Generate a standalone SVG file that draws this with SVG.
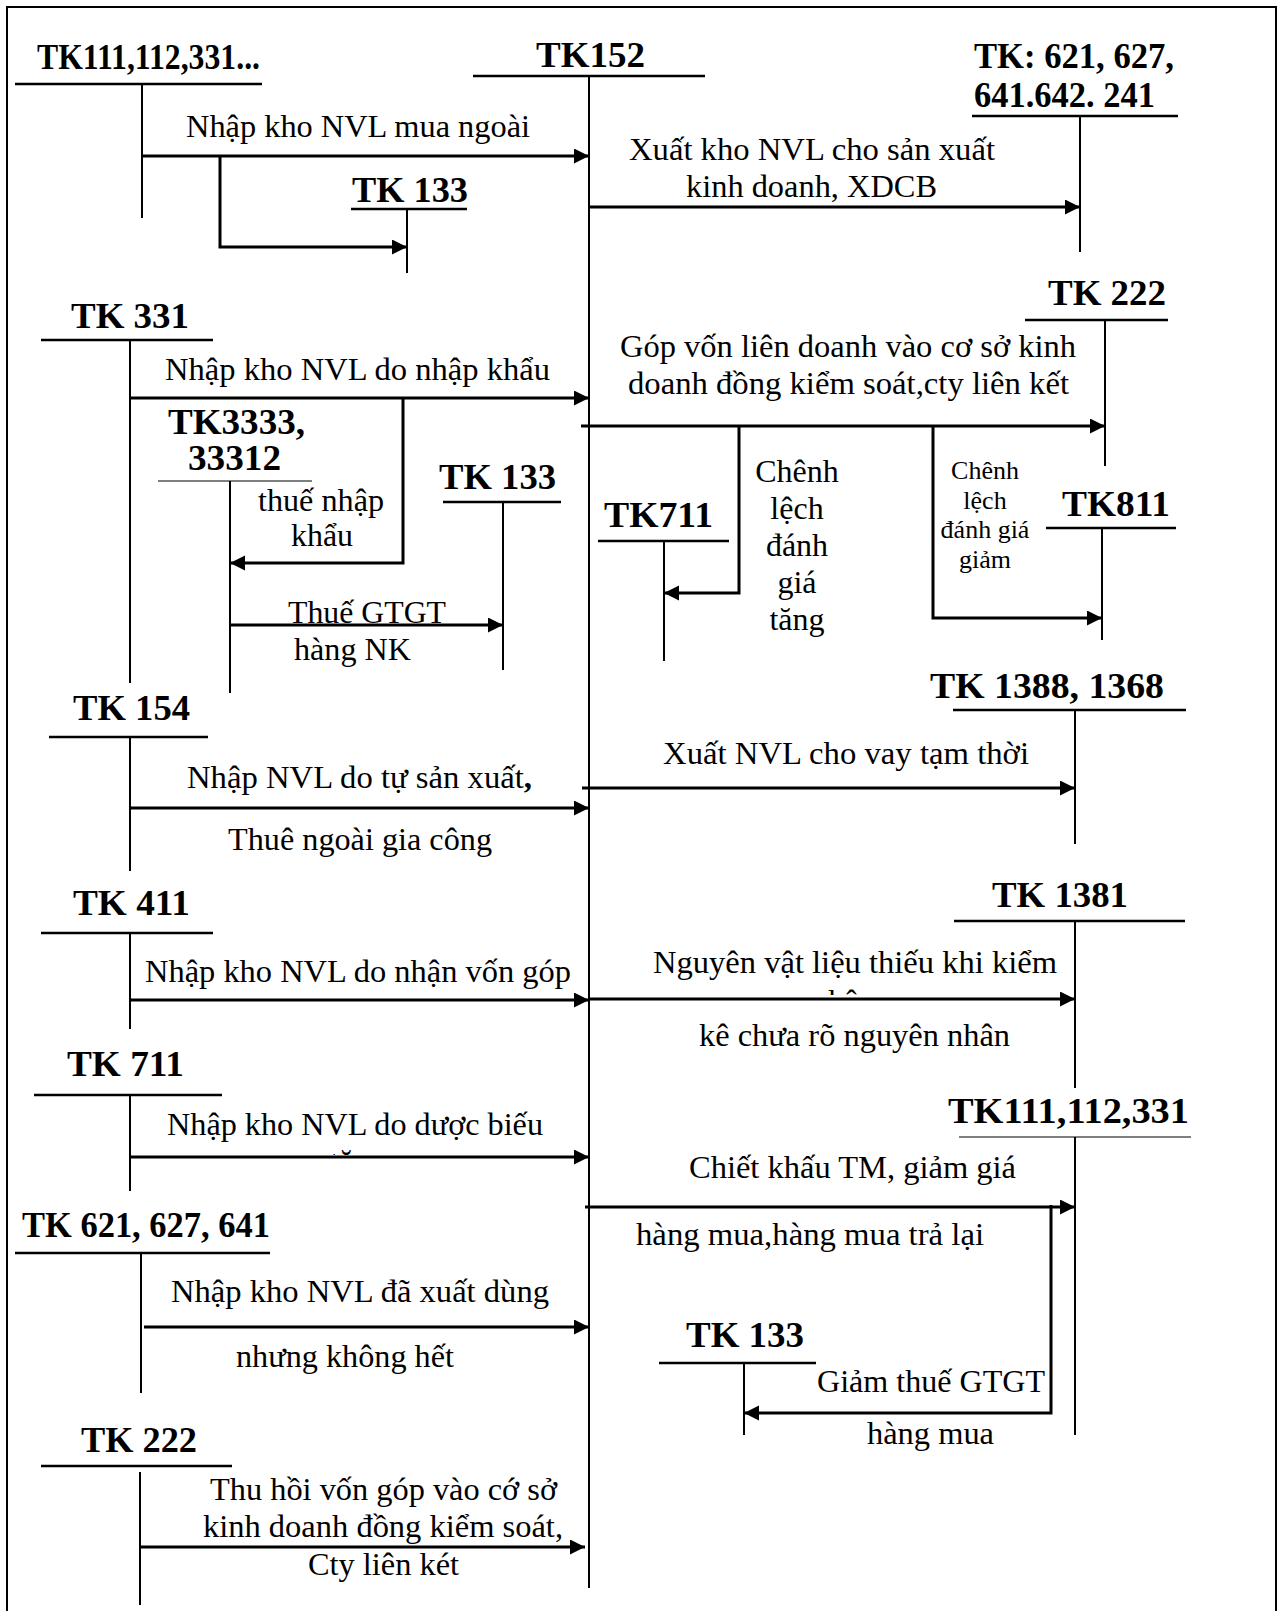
<svg xmlns="http://www.w3.org/2000/svg" width="1283" height="1611" viewBox="0 0 1283 1611">
<style>
.hd{font-family:"Liberation Serif","Times New Roman",serif;font-weight:bold;font-size:36px;fill:#000}
.lb{font-family:"Liberation Serif","Times New Roman",serif;font-size:32px;fill:#000}
.sm{font-family:"Liberation Serif","Times New Roman",serif;font-size:26px;fill:#000}
.v{stroke:#000;stroke-width:2;fill:none}
.u{stroke:#000;stroke-width:2.5;fill:none}
.ut{stroke:#000;stroke-width:1.2;fill:none}
.a{stroke:#000;stroke-width:3;fill:none;marker-end:url(#ah)}
.c{text-anchor:middle}
</style>
<defs>
<marker id="ah" markerUnits="userSpaceOnUse" markerWidth="16" markerHeight="16" refX="15" refY="7.5" orient="auto">
<path d="M0,0 L15,7.5 L0,15 Z" fill="#000"/>
</marker>
<clipPath id="clipKe"><rect x="800" y="960" width="100" height="35"/></clipPath>
<clipPath id="clipTang"><rect x="300" y="1120" width="100" height="35"/></clipPath>
</defs>
<rect width="1283" height="1611" fill="#fff"/>
<path d="M7,1611 V7 H1276 V1611" stroke="#000" stroke-width="2" fill="none"/>

<g id="tk111-top">
<text class="hd" x="37" y="69" textLength="223" lengthAdjust="spacingAndGlyphs">TK111,112,331...</text>
<line class="u" x1="15" y1="84" x2="262" y2="84"/>
<line class="v" x1="142" y1="84" x2="142" y2="218"/>
</g>
<g id="tk152">
<text class="hd" x="536" y="67" textLength="109" lengthAdjust="spacingAndGlyphs">TK152</text>
<line class="u" x1="473" y1="76" x2="705" y2="76"/>
<line class="v" x1="589" y1="76" x2="589" y2="1588"/>
</g>
<g id="tk621-top">
<text class="hd" x="974" y="68" textLength="200" lengthAdjust="spacingAndGlyphs">TK: 621, 627,</text>
<text class="hd" x="974" y="107" textLength="181" lengthAdjust="spacingAndGlyphs">641.642. 241</text>
<line class="u" x1="972" y1="116" x2="1178" y2="116"/>
<line class="v" x1="1080" y1="116" x2="1080" y2="252"/>
</g>
<g id="tk133-top">
<text class="hd" x="352" y="202" textLength="116" lengthAdjust="spacingAndGlyphs">TK 133</text>
<line class="u" x1="351" y1="209" x2="467" y2="209"/>
<line class="v" x1="407" y1="209" x2="407" y2="273"/>
</g>
<g id="tk331">
<text class="hd" x="71" y="328" textLength="118" lengthAdjust="spacingAndGlyphs">TK 331</text>
<line class="u" x1="41" y1="340" x2="213" y2="340"/>
<line class="v" x1="130" y1="340" x2="130" y2="683"/>
</g>
<g id="tk3333">
<text class="hd" x="168" y="434" textLength="137" lengthAdjust="spacingAndGlyphs">TK3333,</text>
<text class="hd" x="188" y="470" textLength="93" lengthAdjust="spacingAndGlyphs">33312</text>
<line class="ut" x1="158" y1="481" x2="312" y2="481"/>
<line class="v" x1="230" y1="481" x2="230" y2="693"/>
</g>
<g id="tk133-mid">
<text class="hd" x="439" y="489" textLength="117" lengthAdjust="spacingAndGlyphs">TK 133</text>
<line class="u" x1="443" y1="502" x2="561" y2="502"/>
<line class="v" x1="503" y1="502" x2="503" y2="670"/>
</g>
<g id="tk222-right">
<text class="hd" x="1048" y="305" textLength="118" lengthAdjust="spacingAndGlyphs">TK 222</text>
<line class="u" x1="1025" y1="320" x2="1168" y2="320"/>
<line class="v" x1="1105" y1="320" x2="1105" y2="466"/>
</g>
<g id="tk711-mid">
<text class="hd" x="604" y="527" textLength="109" lengthAdjust="spacingAndGlyphs">TK711</text>
<line class="u" x1="598" y1="541" x2="729" y2="541"/>
<line class="v" x1="664" y1="541" x2="664" y2="661"/>
</g>
<g id="tk811">
<text class="hd" x="1062" y="516" textLength="108" lengthAdjust="spacingAndGlyphs">TK811</text>
<line class="u" x1="1046" y1="528" x2="1176" y2="528"/>
<line class="v" x1="1102" y1="528" x2="1102" y2="640"/>
</g>
<g id="tk154">
<text class="hd" x="73" y="720" textLength="117" lengthAdjust="spacingAndGlyphs">TK 154</text>
<line class="u" x1="49" y1="737" x2="208" y2="737"/>
<line class="v" x1="130" y1="737" x2="130" y2="871"/>
</g>
<g id="tk1388">
<text class="hd" x="930" y="698" textLength="234" lengthAdjust="spacingAndGlyphs">TK 1388, 1368</text>
<line class="u" x1="953" y1="710" x2="1186" y2="710"/>
<line class="v" x1="1075" y1="710" x2="1075" y2="844"/>
</g>
<g id="tk411">
<text class="hd" x="73" y="915" textLength="117" lengthAdjust="spacingAndGlyphs">TK 411</text>
<line class="u" x1="41" y1="933" x2="213" y2="933"/>
<line class="v" x1="130" y1="933" x2="130" y2="1029"/>
</g>
<g id="tk1381">
<text class="hd" x="992" y="907" textLength="136" lengthAdjust="spacingAndGlyphs">TK 1381</text>
<line class="u" x1="954" y1="921" x2="1185" y2="921"/>
<line class="v" x1="1075" y1="921" x2="1075" y2="1088"/>
</g>
<g id="tk711-left">
<text class="hd" x="67" y="1076" textLength="117" lengthAdjust="spacingAndGlyphs">TK 711</text>
<line class="u" x1="34" y1="1095" x2="222" y2="1095"/>
<line class="v" x1="130" y1="1095" x2="130" y2="1191"/>
</g>
<g id="tk111-right">
<text class="hd" x="948" y="1123" textLength="241" lengthAdjust="spacingAndGlyphs">TK111,112,331</text>
<line class="ut" x1="959" y1="1137" x2="1191" y2="1137"/>
<line class="v" x1="1075" y1="1137" x2="1075" y2="1435"/>
</g>
<g id="tk621-left">
<text class="hd" x="22" y="1237" textLength="248" lengthAdjust="spacingAndGlyphs">TK 621, 627, 641</text>
<line class="u" x1="15" y1="1253" x2="270" y2="1253"/>
<line class="v" x1="141" y1="1253" x2="141" y2="1393"/>
</g>
<g id="tk133-bottom">
<text class="hd" x="686" y="1347" textLength="118" lengthAdjust="spacingAndGlyphs">TK 133</text>
<line class="u" x1="659" y1="1363" x2="816" y2="1363"/>
<line class="v" x1="744" y1="1363" x2="744" y2="1435"/>
</g>
<g id="tk222-left">
<text class="hd" x="81" y="1452" textLength="116" lengthAdjust="spacingAndGlyphs">TK 222</text>
<line class="u" x1="41" y1="1466" x2="232" y2="1466"/>
<line class="v" x1="140" y1="1472" x2="140" y2="1605"/>
</g>

<g id="connectors">
<line class="a" x1="142" y1="156" x2="589" y2="156"/>
<path class="a" d="M220,156 V247 H407"/>
<line class="a" x1="589" y1="207" x2="1080" y2="207"/>
<line class="a" x1="130" y1="398" x2="589" y2="398"/>
<path class="a" d="M403,398 V563 H230"/>
<line class="a" x1="230" y1="625" x2="503" y2="625"/>
<line class="a" x1="581" y1="426" x2="1105" y2="426"/>
<path class="a" d="M739,426 V593 H664"/>
<path class="a" d="M933,426 V618 H1102"/>
<line class="a" x1="582" y1="788" x2="1075" y2="788"/>
<line class="a" x1="130" y1="808" x2="589" y2="808"/>
<line class="a" x1="130" y1="1000" x2="589" y2="1000"/>
<line class="a" x1="589" y1="999" x2="1075" y2="999"/>
<line class="a" x1="130" y1="1157" x2="589" y2="1157"/>
<line class="a" x1="585" y1="1207" x2="1075" y2="1207"/>
<path class="a" d="M1051,1205 V1413 H744"/>
<line class="a" x1="144" y1="1327" x2="589" y2="1327"/>
<line class="a" x1="140" y1="1547" x2="585" y2="1547"/>
</g>

<g id="labels">
<text class="lb" x="186" y="137" textLength="344" lengthAdjust="spacingAndGlyphs">Nhập kho NVL mua ngoài</text>
<text class="lb" x="629" y="160" textLength="366" lengthAdjust="spacingAndGlyphs">Xuất kho NVL cho sản xuất</text>
<text class="lb" x="686" y="197" textLength="251" lengthAdjust="spacingAndGlyphs">kinh doanh, XDCB</text>
<text class="lb" x="165" y="380" textLength="385" lengthAdjust="spacingAndGlyphs">Nhập kho NVL do nhập khẩu</text>
<text class="lb" x="258" y="511" textLength="126" lengthAdjust="spacingAndGlyphs">thuế nhập</text>
<text class="lb" x="291" y="546" textLength="62" lengthAdjust="spacingAndGlyphs">khẩu</text>
<text class="lb" x="288" y="623" textLength="158" lengthAdjust="spacingAndGlyphs">Thuế GTGT</text>
<text class="lb" x="294" y="660" textLength="117" lengthAdjust="spacingAndGlyphs">hàng NK</text>
<text class="lb" x="620" y="357" textLength="456" lengthAdjust="spacingAndGlyphs">Góp vốn liên doanh vào cơ sở kinh</text>
<text class="lb" x="628" y="394" textLength="441" lengthAdjust="spacingAndGlyphs">doanh đồng kiểm soát,cty liên kết</text>
<text class="lb c" x="797" y="482">Chênh</text>
<text class="lb c" x="797" y="519">lệch</text>
<text class="lb c" x="797" y="556">đánh</text>
<text class="lb c" x="797" y="593">giá</text>
<text class="lb c" x="797" y="630">tăng</text>
<text class="sm c" x="985" y="479">Chênh</text>
<text class="sm c" x="985" y="509">lệch</text>
<text class="sm c" x="985" y="538">đánh giá</text>
<text class="sm c" x="985" y="568">giảm</text>
<text class="lb" x="663" y="764" textLength="366" lengthAdjust="spacingAndGlyphs">Xuất NVL cho vay tạm thời</text>
<text class="lb" x="187" y="788" textLength="345" lengthAdjust="spacingAndGlyphs">Nhập NVL do tự sản xuất<tspan font-weight="bold">,</tspan></text>
<text class="lb" x="228" y="850" textLength="264" lengthAdjust="spacingAndGlyphs">Thuê ngoài gia công</text>
<text class="lb" x="145" y="982" textLength="426" lengthAdjust="spacingAndGlyphs">Nhập kho NVL do nhận vốn góp</text>
<text class="lb" x="653" y="973" textLength="404" lengthAdjust="spacingAndGlyphs">Nguyên vật liệu thiếu khi kiểm</text>
<text class="lb" x="828" y="1012" clip-path="url(#clipKe)">kê</text>
<text class="lb" x="699" y="1046" textLength="311" lengthAdjust="spacingAndGlyphs">kê chưa rõ nguyên nhân</text>
<text class="lb" x="167" y="1135" textLength="376" lengthAdjust="spacingAndGlyphs">Nhập kho NVL do dược biếu</text>
<text class="lb" x="330" y="1172" clip-path="url(#clipTang)">tặng</text>
<text class="lb" x="689" y="1178" textLength="327" lengthAdjust="spacingAndGlyphs">Chiết khấu TM, giảm giá</text>
<text class="lb" x="636" y="1245" textLength="348" lengthAdjust="spacingAndGlyphs">hàng mua,hàng mua trả lại</text>
<text class="lb" x="817" y="1392" textLength="228" lengthAdjust="spacingAndGlyphs">Giảm thuế GTGT</text>
<text class="lb" x="867" y="1444" textLength="127" lengthAdjust="spacingAndGlyphs">hàng mua</text>
<text class="lb" x="171" y="1302" textLength="378" lengthAdjust="spacingAndGlyphs">Nhập kho NVL đã xuất dùng</text>
<text class="lb" x="236" y="1367" textLength="218" lengthAdjust="spacingAndGlyphs">nhưng không hết</text>
<text class="lb" x="210" y="1500" textLength="347" lengthAdjust="spacingAndGlyphs">Thu hồi vốn góp vào cớ sở</text>
<text class="lb" x="203" y="1537" textLength="360" lengthAdjust="spacingAndGlyphs">kinh doanh đồng kiểm soát,</text>
<text class="lb" x="308" y="1575" textLength="151" lengthAdjust="spacingAndGlyphs">Cty liên két</text>
</g>
</svg>
